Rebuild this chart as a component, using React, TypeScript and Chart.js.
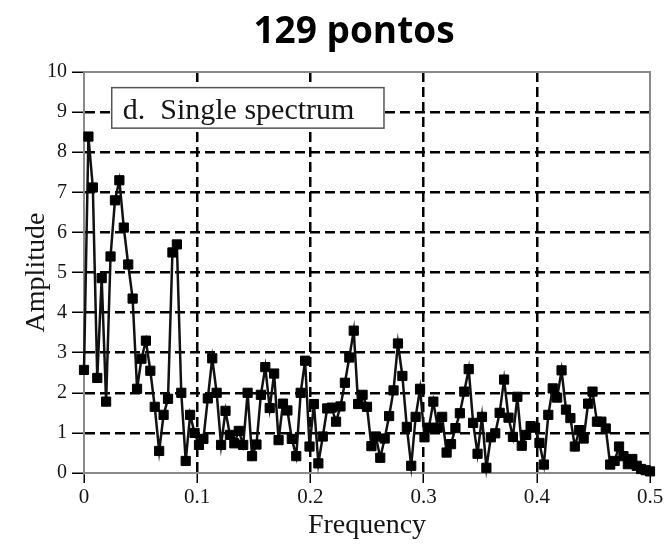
import React, { useEffect, useRef } from "react";
import { Chart, registerables } from "chart.js";

Chart.register(...registerables);

const amplitudes: number[] = [
  2.57, 8.39, 7.12, 2.37, 4.86, 1.78, 5.4, 6.8, 7.3, 6.12,
  5.2, 4.35, 2.1, 2.85, 3.3, 2.55, 1.65, 0.55, 1.45, 1.85,
  5.5, 5.7, 2.0, 0.3, 1.45, 1.0, 0.7, 0.85, 1.86, 2.86,
  2.0, 0.7, 1.55, 0.95, 0.74, 1.05, 0.7, 2.0, 0.42, 0.71,
  1.95, 2.64, 1.62, 2.48, 0.82, 1.73, 1.56, 0.85, 0.42, 2.0,
  2.8, 0.66, 1.72, 0.24, 0.91, 1.61, 1.63, 1.28, 1.66, 2.25,
  2.88, 3.55, 1.72, 1.95, 1.65, 0.67, 0.91, 0.38, 0.86, 1.42,
  2.06, 3.23, 2.42, 1.15, 0.18, 1.4, 2.1, 0.89, 1.13, 1.78,
  1.13, 1.4, 0.51, 0.72, 1.12, 1.49, 2.03, 2.59, 1.25, 0.48,
  1.4, 0.13, 0.89, 0.99, 1.5, 2.33, 1.38, 0.9, 1.9, 0.68,
  0.95, 1.17, 1.13, 0.75, 0.21, 1.45, 2.11, 1.88, 2.56, 1.58,
  1.37, 0.66, 1.07, 0.86, 1.73, 2.03, 1.28, 1.28, 1.11, 0.21,
  0.3, 0.66, 0.42, 0.22, 0.35, 0.18, 0.1, 0.07, 0.04,
];

// frequency grid: 129 points from 0 to 0.5 (Nyquist)
const frequencies: number[] = amplitudes.map((_, i) => (i * 0.5) / (amplitudes.length - 1));

const titleText = "129 pontos";
const panelLabel = "d.  Single spectrum";
const xAxisTitle = "Frequency";
const yAxisTitle = "Amplitude";
const xRange = [0, 0.5];
const yRange = [0, 10];

const SERIF = '"Liberation Serif", "Times New Roman", serif';
const TEXT = "#151515";
const FRAME = "#8a8a8a";

const decorPlugin = {
  id: "decor",
  beforeDatasetsDraw(chart: any) {
    const { ctx, chartArea: a, scales } = chart;
    ctx.save();
    // top and right frame lines
    ctx.strokeStyle = FRAME;
    ctx.lineWidth = 2;
    ctx.beginPath();
    ctx.moveTo(a.left, a.top);
    ctx.lineTo(a.right, a.top);
    ctx.lineTo(a.right, a.bottom);
    ctx.stroke();
    // panel label box
    const xs = scales.x;
    const ys = scales.y;
    const l = xs.getPixelForValue(0.0245);
    const r = xs.getPixelForValue(0.265);
    const t = ys.getPixelForValue(9.61);
    const b = ys.getPixelForValue(8.6);
    ctx.fillStyle = "#ffffff";
    ctx.fillRect(l, t, r - l, b - t);
    ctx.strokeStyle = "#555555";
    ctx.lineWidth = 1.5;
    ctx.strokeRect(l, t, r - l, b - t);
    ctx.fillStyle = TEXT;
    ctx.font = `30px ${SERIF}`;
    ctx.textAlign = "left";
    ctx.textBaseline = "alphabetic";
    ctx.fillText(panelLabel, l + 11, b - 9);
    ctx.restore();
  },
  afterDraw(chart: any) {
    const { ctx, chartArea: a } = chart;
    ctx.save();
    ctx.fillStyle = "#000000";
    ctx.font = 'bold 37px "Open Sans", sans-serif';
    ctx.textAlign = "center";
    ctx.textBaseline = "alphabetic";
    ctx.fillText(titleText, (a.left + a.right) / 2 - 13, 43);
    ctx.restore();
  },
};

export default function App() {
  const canvasRef = useRef<HTMLCanvasElement | null>(null);

  useEffect(() => {
    if (!canvasRef.current) return;
    const points = amplitudes.map((v, i) => ({ x: frequencies[i], y: v }));
    const edgeX = (v: number) => v <= xRange[0] + 1e-9 || v >= xRange[1] - 1e-9;
    const edgeY = (v: number) => v <= yRange[0] + 1e-9 || v >= yRange[1] - 1e-9;

    const chart = new Chart(canvasRef.current, {
      type: "line",
      data: {
        datasets: [
          {
            data: points,
            borderColor: "#111111",
            borderWidth: 2.5,
            backgroundColor: "#000000",
            pointStyle: "rect",
            pointRadius: 6.5,
            pointBorderWidth: 1,
            pointBorderColor: "#000000",
            pointBackgroundColor: "#000000",
            tension: 0,
            clip: false as any,
          },
        ],
      },
      options: {
        animation: false,
        responsive: true,
        maintainAspectRatio: false,
        layout: { padding: { top: 72, left: 0, right: 21, bottom: 0 } },
        plugins: {
          legend: { display: false },
          tooltip: { enabled: false },
          title: { display: false },
        },
        scales: {
          x: {
            type: "linear",
            min: xRange[0],
            max: xRange[1],
            afterFit: (s: any) => {
              s.height = 72;
            },
            ticks: {
              stepSize: 0.1,
              color: TEXT,
              font: { family: SERIF, size: 21 },
              padding: 2,
              maxRotation: 0,
              callback: (v: any) => String(Math.round(Number(v) * 10) / 10),
            },
            grid: {
              color: (c: any) => (c.tick && edgeX(c.tick.value) ? "rgba(0,0,0,0)" : "#000000"),
              lineWidth: 2.5,
              tickColor: "#000000",
              tickLength: 10,
              tickWidth: 1.5,
            },
            border: { display: true, color: FRAME, width: 2, dash: [10, 5] },
            title: {
              display: true,
              text: xAxisTitle,
              color: TEXT,
              font: { family: SERIF, size: 28 },
              padding: { top: 0, bottom: 3 },
            },
          },
          y: {
            type: "linear",
            min: yRange[0],
            max: yRange[1],
            afterFit: (s: any) => {
              s.width = 84;
            },
            ticks: {
              stepSize: 1,
              color: TEXT,
              font: { family: SERIF, size: 20 },
              padding: 5,
            },
            grid: {
              color: (c: any) => (c.tick && edgeY(c.tick.value) ? "rgba(0,0,0,0)" : "#000000"),
              lineWidth: 2.5,
              tickColor: "#000000",
              tickLength: 12,
              tickWidth: 1.5,
            },
            border: { display: true, color: FRAME, width: 2, dash: [10, 5] },
            title: {
              display: true,
              text: yAxisTitle,
              color: TEXT,
              font: { family: SERIF, size: 28 },
              padding: { top: 20, bottom: 0 },
            },
          },
        },
      },
      plugins: [decorPlugin],
    });
    return () => chart.destroy();
  }, []);

  return (
    <div
      style={{
        position: "fixed",
        left: 0,
        top: 0,
        width: 671,
        height: 545,
        background: "#ffffff",
      }}
    >
      <canvas ref={canvasRef} />
    </div>
  );
}
